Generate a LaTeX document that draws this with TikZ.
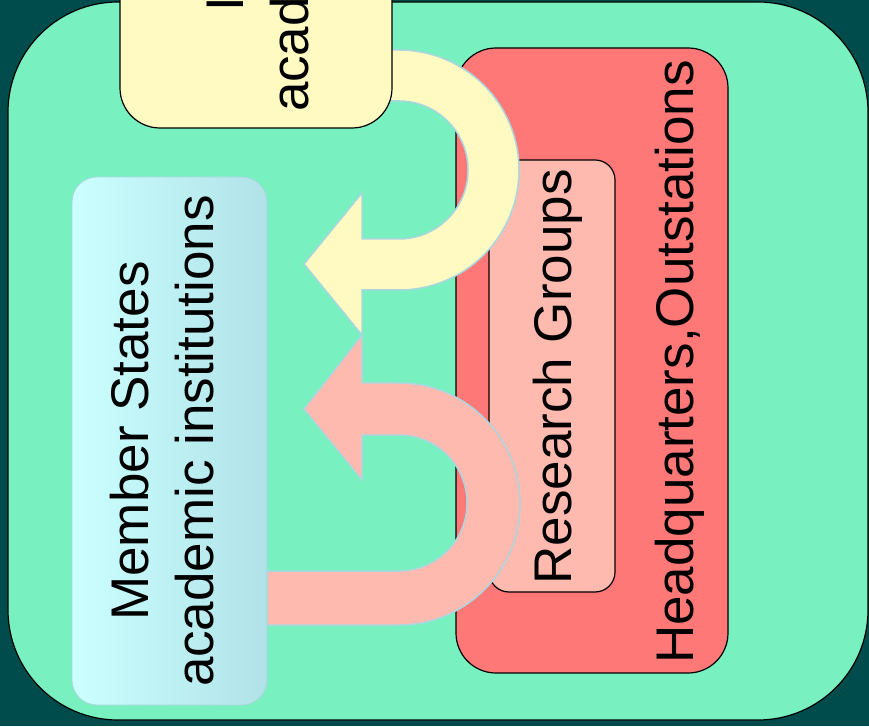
\documentclass[tikz,border=0pt]{standalone}
\usepackage{fontspec}
\setmainfont{Liberation Sans}
\usetikzlibrary{positioning}

\definecolor{deepteal}{RGB}{0,76,76}
\definecolor{mint}{RGB}{120,240,192}
\definecolor{cream}{RGB}{255,250,194}
\definecolor{hqred}{RGB}{255,120,120}
\definecolor{rgpink}{RGB}{255,186,176}
\definecolor{iceleft}{RGB}{204,255,255}
\definecolor{iceright}{RGB}{176,226,232}
\definecolor{paleline}{RGB}{170,214,222}

\begin{document}
\begin{tikzpicture}[
        x=1pt, y=1pt,
        box/.style={
            rectangle, draw=black, line width=1.2pt, rounded corners=40pt, inner sep=0pt
        },
        lbl/.style={
            rotate=90, align=center, inner sep=0pt, font=\fontsize{53}{65}\selectfont
        },
        uturn/.style={draw=paleline, line width=1.5pt}
    ]
        \useasboundingbox (0,0) rectangle (869,726);
        \clip (0,0) rectangle (869,726);
        \fill[deepteal] (0,0) rectangle (869,726);

        % Frame
        \node[box, fill=mint, rounded corners=110pt, minimum width=860pt, minimum height=718pt] (frame) at (438,365) {};

        % Right side
        \node[box, fill=hqred, minimum width=272pt, minimum height=625pt] (hq) at (592,365.5) {};
        \node[box, fill=rgpink, rounded corners=20pt, minimum width=126pt, minimum height=432pt] (rg) at (552,350) {};

        % Left side
        \node[box, draw=paleline, line width=0.8pt, rounded corners=25pt, left color=iceleft, right color=iceright,
            minimum width=195pt, minimum height=528pt] (ms) at (169.5,285) {};

        % U-turn arrows
        \draw[uturn, fill=cream] (380,676) -- (399,676) arc[start angle=90, end angle=-90, radius=120]
            -- (362,436) -- (362,391) -- (304,462) -- (362,533) -- (362,487) -- (399,487)
            arc[start angle=-90, end angle=90, radius=69] -- (380,625) -- cycle;
        \draw[uturn, fill=rgpink] (ms.east |- 0,101) -- (399,101) arc[start angle=-90, end angle=90, radius=121]
            -- (362,343) -- (362,391) -- (304,317) -- (362,246) -- (362,291) -- (399,291)
            arc[start angle=90, end angle=-90, radius=68] -- (ms.east |- 0,155) -- cycle;

        % Top
        \node[box, fill=cream, minimum width=272pt, minimum height=524pt] (intl) at (256,860) {};

        % Labels
        \node[lbl] (intltext) at ([xshift=1.5pt]intl.center) {International\\academic institutions};
        \node[lbl] (mstext) at ([xshift=-7pt]ms.center) {Member States\\academic institutions};
        \node[lbl] (rgtext) at ([xshift=6pt, yshift=-1pt]rg.center) {Research Groups};
        \node[lbl] (hqtext) at ([xshift=87.5pt, yshift=-1.5pt]hq.center) {Headquarters,Outstations};

    \end{tikzpicture}
\end{document}
